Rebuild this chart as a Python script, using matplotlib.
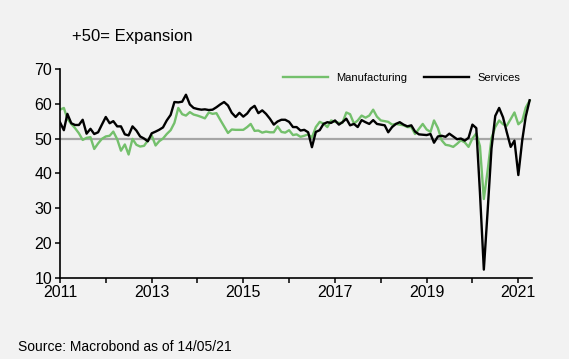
import pandas as pd
import matplotlib
matplotlib.use("Agg")
import matplotlib.pyplot as plt
import matplotlib.dates as mdates

plt.rcParams['font.family'] = ['Liberation Sans', 'DejaVu Sans']

# monthly PMI, Jan 2011 - Apr 2021
manufacturing = [
    58.3, 58.8, 55.7, 54.2, 53.0, 51.5, 49.6, 50.2, 50.4, 47.0, 48.6, 49.9,  # 2011
    50.6, 50.8, 52.0, 49.8, 46.5, 48.3, 45.4, 49.9, 48.2, 47.7, 47.9, 49.4,  # 2012
    50.9, 48.0, 49.2, 50.0, 51.3, 52.4, 54.5, 58.8, 57.0, 56.6, 57.6, 56.9,  # 2013
    56.6, 56.2, 55.8, 57.5, 57.1, 57.3, 55.4, 53.5, 51.6, 52.6, 52.5, 52.5,  # 2014
    52.5, 53.3, 54.2, 52.2, 52.3, 51.7, 52.0, 51.8, 51.8, 53.5, 51.9, 51.7,  # 2015
    52.4, 51.0, 51.2, 50.5, 50.8, 51.2, 50.3, 53.3, 54.8, 54.3, 53.3, 55.2,  # 2016
    54.8, 54.5, 54.5, 57.5, 57.0, 54.3, 55.2, 56.6, 56.0, 56.6, 58.3, 56.3,  # 2017
    55.2, 55.0, 54.8, 54.0, 54.2, 54.0, 53.8, 53.3, 53.3, 51.3, 52.8, 54.2,  # 2018
    52.6, 51.9, 55.2, 53.0, 49.5, 48.2, 48.0, 47.6, 48.5, 49.5, 48.9, 47.6,  # 2019
    50.0, 51.5, 47.8, 32.6, 40.7, 50.1, 53.3, 55.2, 54.1, 53.7, 55.6, 57.5,  # 2020
    54.1, 55.1, 58.9, 60.9,                                                  # 2021
]
services = [
    54.7, 52.4, 57.1, 54.4, 53.9, 53.9, 55.4, 51.4, 52.8, 51.3, 51.8, 54.0,  # 2011
    56.2, 54.4, 55.0, 53.5, 53.5, 51.2, 50.9, 53.5, 52.3, 50.6, 50.0, 49.2,  # 2012
    51.5, 52.0, 52.5, 53.2, 55.2, 56.8, 60.5, 60.4, 60.6, 62.6, 59.8, 58.8,  # 2013
    58.5, 58.3, 58.4, 58.2, 58.3, 59.0, 59.8, 60.5, 59.5, 57.4, 56.2, 57.4,  # 2014
    56.3, 57.2, 58.6, 59.4, 57.3, 58.1, 57.1, 55.7, 54.0, 54.9, 55.4, 55.4,  # 2015
    54.8, 53.3, 53.3, 52.3, 52.5, 51.8, 47.5, 51.9, 52.4, 54.2, 54.7, 54.5,  # 2016
    55.2, 54.0, 54.7, 55.7, 53.8, 54.2, 53.3, 55.3, 54.7, 54.2, 55.3, 54.2,  # 2017
    54.0, 53.8, 51.8, 53.3, 54.2, 54.7, 54.0, 53.5, 53.8, 52.0, 51.2, 51.1,  # 2018
    51.0, 51.3, 48.8, 50.6, 50.8, 50.5, 51.4, 50.6, 49.8, 50.0, 49.4, 50.2,  # 2019
    54.0, 53.0, 34.5, 12.3, 29.0, 47.1, 56.5, 58.8, 56.1, 51.8, 47.6, 49.4,  # 2020
    39.5, 49.5, 56.3, 61.0,                                                  # 2021
]
dates = pd.date_range('2011-01-01', periods=len(services), freq='MS')
year_labels = list(range(2011, 2022, 2))
y_ticks = [10, 20, 30, 40, 50, 60, 70]

bg = '#f2f2f2'
fig = plt.figure(figsize=(5.69, 3.59), dpi=100, facecolor=bg)
ax = fig.add_axes([0.1054, 0.2267, 0.8296, 0.5811], facecolor=bg)

ax.axhline(50, color='#a6a6a6', lw=1.6, zorder=1)
ax.plot(dates, manufacturing, color='#74c06c', lw=1.7, label='Manufacturing', zorder=2)
ax.plot(dates, services, color='black', lw=1.7, label='Services', zorder=3)

ax.set_ylim(10, 70)
ax.set_yticks(y_ticks)
ax.set_xlim(pd.Timestamp('2011-01-01'), pd.Timestamp('2021-04-20'))
ax.set_xticks([pd.Timestamp(f'{y}-01-01') for y in year_labels])
ax.set_xticks([pd.Timestamp(f'{y}-01-01') for y in range(2011, 2022)], minor=True)
ax.xaxis.set_major_formatter(mdates.DateFormatter('%Y'))

for s in ['top', 'right']:
    ax.spines[s].set_visible(False)
for s in ['left', 'bottom']:
    ax.spines[s].set_linewidth(1.2)
ax.tick_params(which='both', direction='out', length=3.5, width=1.1, labelsize=11.5, pad=2)

leg = ax.legend(loc='center left', bbox_to_anchor=(0.472, 0.957), ncol=2, frameon=False,
                fontsize=8, handlelength=4.1, handletextpad=0.7, columnspacing=1.5,
                borderpad=0, borderaxespad=0)

fig.text(72 / 569, 1 - 36 / 359, '+50= Expansion', fontsize=12, va='center', ha='left')
fig.text(18 / 569, 1 - 347 / 359, 'Source: Macrobond as of 14/05/21', fontsize=10, va='center', ha='left')

fig.savefig('out.png', dpi=100, facecolor=bg)
